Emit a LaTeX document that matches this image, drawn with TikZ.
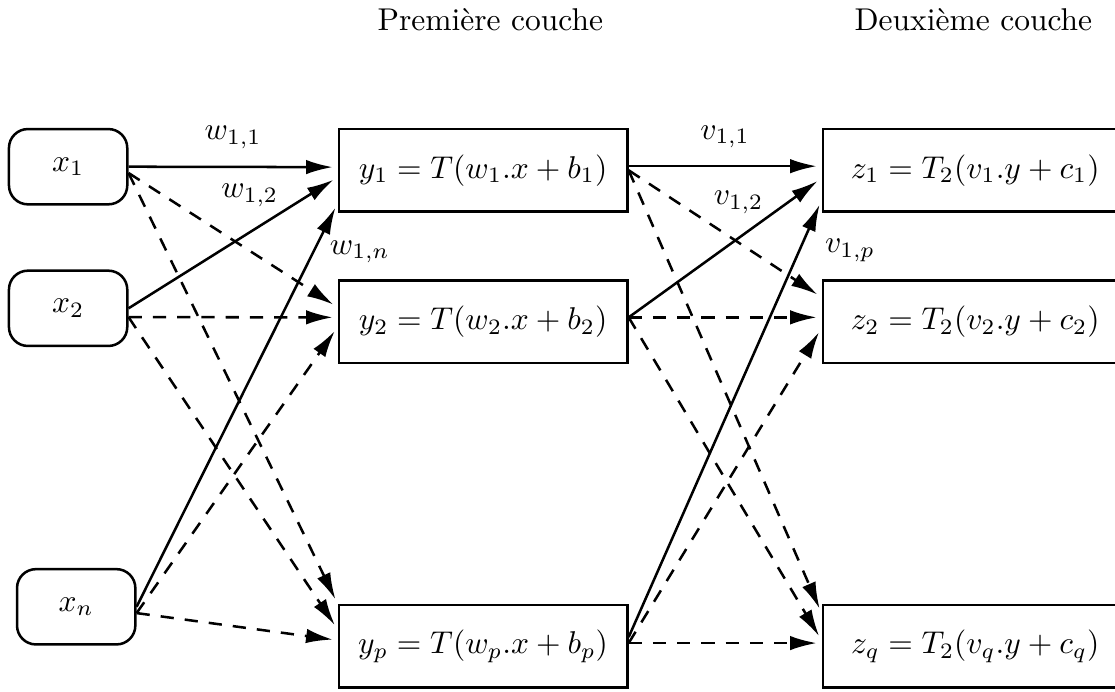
\documentclass[tikz,border=0pt]{standalone}
\usepackage{tikz}
\usetikzlibrary{arrows.meta}

\begin{document}
\begin{tikzpicture}[thick, >={Latex[length=8.5pt,width=4.6pt]},
    entree/.style={draw, rounded corners=6pt, minimum width=1.32cm, minimum height=.84cm},
    couche/.style={draw, minimum width=3.22cm, minimum height=.92cm},
    couchedeux/.style={draw, minimum width=3.4cm, minimum height=.92cm},
    lien/.style={->, shorten >=1.5pt},
    lienpt/.style={->, shorten >=1.5pt, dash pattern=on 4.2pt off 3.5pt}]
  \useasboundingbox (0, 0) rectangle (12.44, 7.71);
  \node (titre1) at (5.47, 7.49) {Première couche};
  \node (titre2) at (10.86, 7.49) {Deuxième couche};
  \node [entree] (x1) at (0.76, 5.85) {$x_1$};
  \node [entree] (x2) at (0.76, 4.27) {$x_2$};
  \node [entree] (xn) at (0.85, 0.94) {$x_n$};
  \node [couche] (y1) at (5.39, 5.81) {$y_1 = T(w_1.x + b_1)$};
  \node [couche] (y2) at (5.39, 4.12) {$y_2 = T(w_2.x + b_2)$};
  \node [couche] (yp) at (5.39, 0.50) {$y_p = T(w_p.x + b_p)$};
  \node [couchedeux] (z1) at (10.88, 5.81) {$z_1 = T_2(v_1.y + c_1)$};
  \node [couchedeux] (z2) at (10.88, 4.12) {$z_2 = T_2(v_2.y + c_2)$};
  \node [couchedeux] (zq) at (10.88, 0.50) {$z_q = T_2(v_q.y + c_q)$};
  \draw [lien] (x1.east) -- node [above=2pt] {$w_{1,1}$} ([yshift=1pt]y1.west);
  \draw [lienpt] ([yshift=-2pt]x1.east) -- ([yshift=4.6pt]y2.west);
  \draw [lienpt] ([yshift=-2pt]x1.east) -- (yp.north west);
  \draw [lien] (x2.east) -- node [above=4.5pt, pos=.58] {$w_{1,2}$} ([yshift=-2.2pt]y1.west);
  \draw [lienpt] ([yshift=-2.8pt]x2.east) -- ([yshift=1.4pt]y2.west);
  \draw [lienpt] ([yshift=-2.8pt]x2.east) -- ([yshift=5.4pt]yp.west);
  \draw [lien] (xn.east) -- node [right=1.5pt, pos=.88] {$w_{1,n}$} ([yshift=-10.5pt]y1.west);
  \draw [lienpt] ([yshift=-2pt]xn.east) -- ([yshift=-1.7pt]y2.west);
  \draw [lienpt] ([yshift=-2pt]xn.east) -- ([yshift=1.9pt]yp.west);
  \draw [lien] ([yshift=1.3pt]y1.east) -- node [above=2pt] {$v_{1,1}$} ([yshift=1.3pt]z1.west);
  \draw [lienpt] (y1.east) -- ([yshift=7.8pt]z2.west);
  \draw [lienpt] (y1.east) -- ([yshift=10.5pt]zq.west);
  \draw [lien] ([yshift=1.4pt]y2.east) -- node [above=4pt, pos=.57] {$v_{1,2}$} ([yshift=-2.5pt]z1.west);
  \draw [lienpt] ([yshift=1.4pt]y2.east) -- ([yshift=1.4pt]z2.west);
  \draw [lienpt] ([yshift=1.4pt]y2.east) -- ([yshift=1.9pt]zq.west);
  \draw [lien] ([yshift=2.9pt]yp.east) -- node [right=4.4pt, pos=.886] {$v_{1,p}$} ([yshift=-9.5pt]z1.west);
  \draw [lienpt] ([yshift=1pt]yp.east) -- ([yshift=-2pt]z2.west);
  \draw [lienpt] ([yshift=1pt]yp.east) -- ([yshift=1pt]zq.west);
\end{tikzpicture}
\end{document}
